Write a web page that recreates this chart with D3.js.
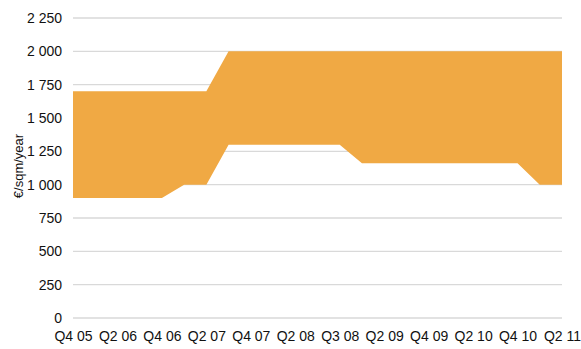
<!DOCTYPE html>
<html><head><meta charset="utf-8">
<script src="https://cdn.jsdelivr.net/npm/d3@7"></script>
<style>
body{margin:0;background:#fff;}
text{font-family:"Liberation Sans",Arial,sans-serif;}
</style></head>
<body><div id="chart"></div>
<script>
// quarterly index 0..22 (Q4 05 .. Q2 11)
const quarterIndex = d3.range(23);
const lowValues  = [900,900,900,900,900,1000,1000,1300,1300,1300,1300,1300,1300,1160,1160,1160,1160,1160,1160,1160,1160,1000,1000];
const highValues = [1700,1700,1700,1700,1700,1700,1700,2000,2000,2000,2000,2000,2000,2000,2000,2000,2000,2000,2000,2000,2000,2000,2000];
const tickLabels = ["Q4 05","Q2 06","Q4 06","Q2 07","Q4 07","Q2 08","Q3 08","Q2 09","Q4 09","Q2 10","Q4 10","Q2 11"];
const yTicks = [0,250,500,750,1000,1250,1500,1750,2000,2250];

const W=581,H=349;
const m={left:73,right:19,top:18,bottom:31};
const svg=d3.select("#chart").append("svg").attr("width",W).attr("height",H);
const x=d3.scaleLinear().domain([0,22]).range([m.left,W-m.right]);
const y=d3.scaleLinear().domain([0,2250]).range([H-m.bottom,m.top]);

const fmt=v=>d3.format(",")(v).replace(/,/g," ");

// grid
svg.append("g").selectAll("line").data(yTicks).join("line")
 .attr("x1",m.left).attr("x2",W-m.right)
 .attr("y1",d=>y(d)).attr("y2",d=>y(d))
 .attr("stroke","#d9d9d9").attr("stroke-width",1.3);

// area
const area=d3.area().x((d,i)=>x(quarterIndex[i])).y0((d,i)=>y(lowValues[i])).y1((d,i)=>y(highValues[i]));
svg.append("path").datum(quarterIndex).attr("d",area).attr("fill","#F0A944");

// y axis labels
const yAxis=d3.axisLeft(y).tickValues(yTicks).tickFormat(fmt).tickSize(0).tickPadding(11);
const gy=svg.append("g").attr("transform",`translate(${m.left},0)`).call(yAxis);
gy.select(".domain").remove();
gy.selectAll("text").attr("font-size",14).attr("fill","#111").attr("font-family","'Liberation Sans',Arial,sans-serif");

// x axis labels
const xAxis=d3.axisBottom(x).tickValues(d3.range(0,23,2)).tickFormat((d,i)=>tickLabels[i]).tickSize(0).tickPadding(13);
const gx=svg.append("g").attr("transform",`translate(0,${H-m.bottom})`).call(xAxis);
gx.select(".domain").remove();
gx.selectAll("text").attr("font-size",14).attr("fill","#111").attr("font-family","'Liberation Sans',Arial,sans-serif");

// y title
svg.append("text").attr("transform",`translate(23,${y(1140)}) rotate(-90)`)
 .attr("text-anchor","middle").attr("font-size",13).attr("fill","#111").text("€/sqm/year");
</script></body></html>
